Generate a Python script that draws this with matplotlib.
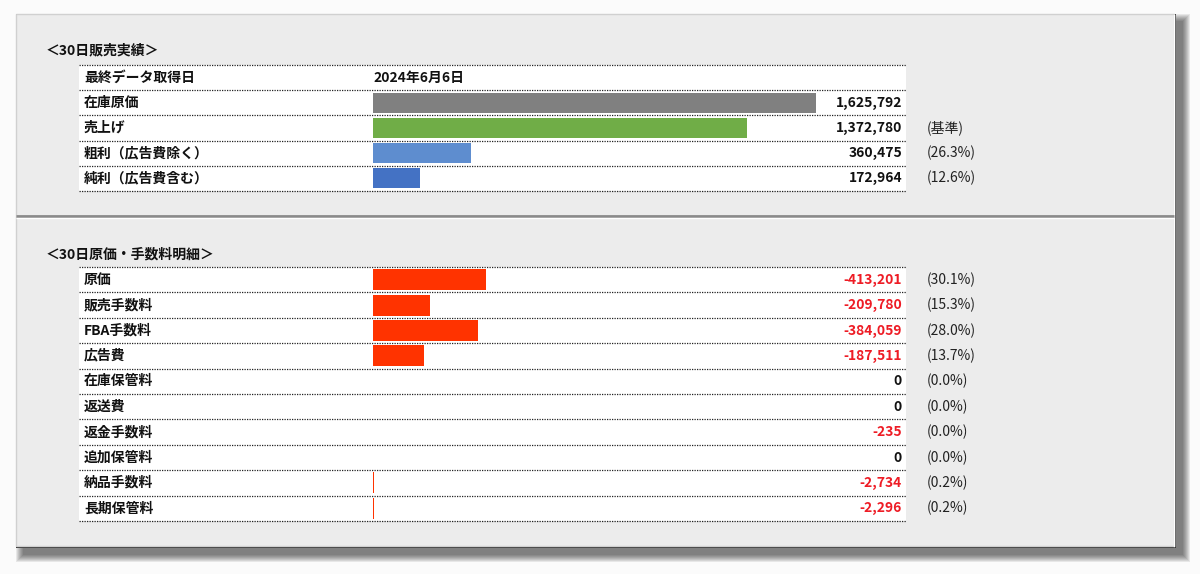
import matplotlib.pyplot as plt
from matplotlib.patches import Rectangle
from matplotlib.transforms import blended_transform_factory

plt.rcParams['font.family'] = ['Noto Sans CJK JP', 'DejaVu Sans']

# ＜30日販売実績＞
sales_title = '＜30日販売実績＞'
date_label = '最終データ取得日'
date_value = '2024年6月6日'
sales_labels = ['在庫原価', '売上げ', '粗利（広告費除く）', '純利（広告費含む）']
sales_values = [1625792, 1372780, 360475, 172964]
sales_pct = ['', '(基準)', '(26.3%)', '(12.6%)']
sales_colors = ['#808080', '#70ad47', '#5e8dcf', '#4472c4']

# ＜30日原価・手数料明細＞
cost_title = '＜30日原価・手数料明細＞'
cost_labels = ['原価', '販売手数料', 'FBA手数料', '広告費', '在庫保管料',
               '返送費', '返金手数料', '追加保管料', '納品手数料', '長期保管料']
cost_values = [-413201, -209780, -384059, -187511, 0, 0, -235, 0, -2734, -2296]
cost_pct = [30.1, 15.3, 28.0, 13.7, 0.0, 0.0, 0.0, 0.0, 0.2, 0.2]

W, H = 1200, 574
fig = plt.figure(figsize=(W / 100, H / 100), dpi=100)
fig.patch.set_facecolor('#fbfbfb')

# 背景パネル（ピクセル座標）
bg = fig.add_axes([0, 0, 1, 1])
bg.set_xlim(0, W)
bg.set_ylim(H, 0)
bg.axis('off')

# ぼかし影（右下）
for r in range(7, -1, -1):
    bg.add_patch(Rectangle((16 + 7 - r, 14 + 7 - r), 1160 + 2 * r, 534 + 2 * r,
                           facecolor='black', alpha=0.08, lw=0))
bg.add_patch(Rectangle((16, 14), 1160, 534, facecolor='#2e2e2e', lw=0))
bg.add_patch(Rectangle((16, 14), 1158, 532, facecolor='#ececec',
                       edgecolor='#d0d0d0', lw=1))
bg.plot([1173.5, 1173.5], [15, 546], color='white', lw=1)
bg.plot([16, 1174], [216, 216], color='#8a8a8a', lw=2, solid_capstyle='butt')
bg.plot([16, 1174], [218, 218], color='white', lw=1, solid_capstyle='butt')

TABLE_L, TABLE_R, BAR_L = 79, 906, 373
XMAX = 1956000  # 棒の目盛り（列右端）
XMIN = -XMAX * (BAR_L - TABLE_L) / (TABLE_R - BAR_L)
TW = TABLE_R - TABLE_L
FS = 10
FW = 'bold'


def make_table(top, bottom, n):
    ax = fig.add_axes([TABLE_L / W, 1 - bottom / H, TW / W, (bottom - top) / H])
    ax.set_xlim(XMIN, XMAX)
    ax.set_ylim(n, 0)
    ax.set_facecolor('white')
    for s in ax.spines.values():
        s.set_visible(False)
    ax.set_xticks([])
    ax.set_yticks([])
    for k in range(n + 1):
        ax.axhline(k, color='#222222', lw=0.9, ls=(0, (1, 1)), clip_on=False)
    return ax, blended_transform_factory(ax.transAxes, ax.transData)


def row_text(ax, tr, y, label, value, vcolor, pct):
    ax.text(5 / TW, y, label, transform=tr, va='center', ha='left',
            fontsize=FS, color='#111111', weight=FW)
    ax.text(1 - 4 / TW, y, value, transform=tr, va='center', ha='right',
            fontsize=FS, color=vcolor, weight=FW)
    ax.text((927 - TABLE_L) / TW, y, pct, transform=tr, va='center',
            ha='left', fontsize=FS, color='#222222', clip_on=False)


# 上段
bg.text(46, 50, sales_title, fontsize=FS, va='center', ha='left',
        color='#111111', weight=FW)
ax1, tr1 = make_table(65, 191, len(sales_labels) + 1)
ax1.text(0, 0.5, date_value, va='center', ha='left', fontsize=FS,
         color='#111111', weight=FW)
ax1.text(5 / TW, 0.5, date_label, transform=tr1, va='center', fontsize=FS,
         color='#111111', weight=FW)
ys1 = [i + 1.5 for i in range(len(sales_labels))]
ax1.barh(ys1, sales_values, height=0.8, left=0, color=sales_colors)
for y, lab, v, p in zip(ys1, sales_labels, sales_values, sales_pct):
    row_text(ax1, tr1, y, lab, f'{v:,}', '#111111', p)

# 下段
bg.text(46, 254, cost_title, fontsize=FS, va='center', ha='left',
        color='#111111', weight=FW)
ax2, tr2 = make_table(267, 521, len(cost_labels))
ys2 = [i + 0.5 for i in range(len(cost_labels))]
ax2.barh(ys2, [-v for v in cost_values], height=0.82, left=0, color='#ff3300',
         lw=0)
for y, lab, v, p in zip(ys2, cost_labels, cost_values, cost_pct):
    col = '#ee1c25' if v < 0 else '#111111'
    row_text(ax2, tr2, y, lab, f'{v:,}', col, f'({p:.1f}%)')

fig.savefig('out.png', dpi=100, facecolor=fig.get_facecolor())
